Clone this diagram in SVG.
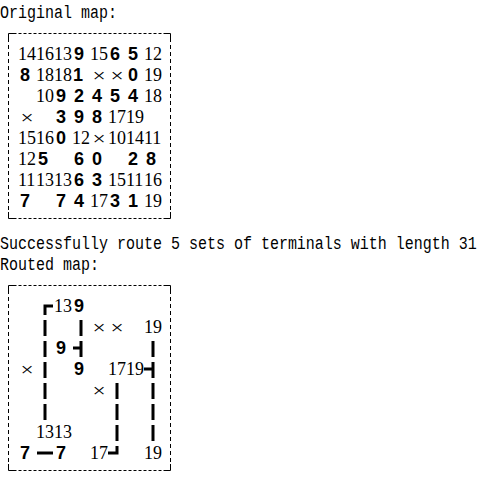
<svg xmlns="http://www.w3.org/2000/svg" width="490" height="483" viewBox="0 0 490 483">
<style>
.ln{font-family:"Liberation Mono",monospace;font-size:15px;fill:#000}
.n{font-family:"Liberation Serif",serif;font-size:18px;fill:#000}
.b{font-family:"Liberation Sans",sans-serif;font-size:18px;font-weight:bold;fill:#000;text-anchor:middle}
.x{font-family:"Liberation Serif",serif;font-size:15px;fill:#000;text-anchor:middle}
.bh{fill:none;stroke:#000;stroke-width:1;stroke-dasharray:3 2}
.bv{fill:none;stroke:#000;stroke-width:1;stroke-dasharray:4 3}
.bc{fill:none;stroke:#000;stroke-width:1}
.r{fill:none;stroke:#000;stroke-width:3;stroke-linecap:butt;stroke-linejoin:miter}
</style>
<rect width="490" height="483" fill="#fff"/>
<g id="messages" transform="scale(1,1.25)">
<text class="ln" x="0" y="14.4">Original map:</text>
<text class="ln" x="0" y="199.2">Successfully route 5 sets of terminals with length 31</text>
<text class="ln" x="0" y="216">Routed map:</text>
</g>
<g id="original-map">
<g id="original-border">
<path class="bh" d="M13.5,33.5H166"/>
<path class="bh" d="M13.5,218.5H166"/>
<path class="bv" d="M8.5,38V214"/>
<path class="bv" d="M170.5,38V214"/>
<path class="bc" d="M8.5,39V33.5H14M165,33.5H170.5V39M8.5,212V218.5H14M165,218.5H170.5V212"/>
</g>
<g id="original-cells">
<text class="n" x="18" y="60">14</text><text class="n" x="36" y="60">16</text><text class="n" x="54" y="60">13</text><text class="b" x="79" y="60">9</text><text class="n" x="90" y="60">15</text><text class="b" x="115" y="60">6</text><text class="b" x="133" y="60">5</text><text class="n" x="144" y="60">12</text>
<text class="b" x="25" y="81">8</text><text class="n" x="36" y="81">18</text><text class="n" x="54" y="81">18</text><text class="b" x="78" y="81">1</text><text class="x" transform="translate(99,75) scale(1.55,1.3)" y="5">×</text><text class="x" transform="translate(117,75) scale(1.55,1.3)" y="5">×</text><text class="b" x="133" y="81">0</text><text class="n" x="144" y="81">19</text>
<text class="n" x="36" y="102">10</text><text class="b" x="61" y="102">9</text><text class="b" x="79" y="102">2</text><text class="b" x="97" y="102">4</text><text class="b" x="115" y="102">5</text><text class="b" x="133" y="102">4</text><text class="n" x="144" y="102">18</text>
<text class="x" transform="translate(27,117) scale(1.55,1.3)" y="5">×</text><text class="b" x="61" y="123">3</text><text class="b" x="79" y="123">9</text><text class="b" x="97" y="123">8</text><text class="n" x="108" y="123">17</text><text class="n" x="126" y="123">19</text>
<text class="n" x="18" y="144">15</text><text class="n" x="36" y="144">16</text><text class="b" x="61" y="144">0</text><text class="n" x="72" y="144">12</text><text class="x" transform="translate(99,138) scale(1.55,1.3)" y="5">×</text><text class="n" x="108" y="144">10</text><text class="n" x="126" y="144">14</text><text class="n" x="144" y="144">11</text>
<text class="n" x="18" y="165">12</text><text class="b" x="43" y="165">5</text><text class="b" x="79" y="165">6</text><text class="b" x="97" y="165">0</text><text class="b" x="133" y="165">2</text><text class="b" x="151" y="165">8</text>
<text class="n" x="18" y="186">11</text><text class="n" x="36" y="186">13</text><text class="n" x="54" y="186">13</text><text class="b" x="79" y="186">6</text><text class="b" x="97" y="186">3</text><text class="n" x="108" y="186">15</text><text class="n" x="126" y="186">11</text><text class="n" x="144" y="186">16</text>
<text class="b" x="25" y="207">7</text><text class="b" x="61" y="207">7</text><text class="b" x="79" y="207">4</text><text class="n" x="90" y="207">17</text><text class="b" x="115" y="207">3</text><text class="b" x="133" y="207">1</text><text class="n" x="144" y="207">19</text>
</g>
</g>
<g id="routed-map">
<g id="routed-border">
<path class="bh" d="M13.5,285.5H166"/>
<path class="bh" d="M13.5,470.5H166"/>
<path class="bv" d="M8.5,290V466"/>
<path class="bv" d="M170.5,290V466"/>
<path class="bc" d="M8.5,291V285.5H14M165,285.5H170.5V291M8.5,464V470.5H14M165,470.5H170.5V464"/>
</g>
<g id="routed-cells">
<text class="n" x="54" y="312">13</text><text class="b" x="79" y="312">9</text>
<text class="x" transform="translate(99,327) scale(1.55,1.3)" y="5">×</text><text class="x" transform="translate(117,327) scale(1.55,1.3)" y="5">×</text><text class="n" x="144" y="333">19</text>
<text class="b" x="61" y="354">9</text>
<text class="x" transform="translate(27,369) scale(1.55,1.3)" y="5">×</text><text class="b" x="79" y="375">9</text><text class="n" x="108" y="375">17</text><text class="n" x="126" y="375">19</text>
<text class="x" transform="translate(99,390) scale(1.55,1.3)" y="5">×</text>
<text class="n" x="36" y="438">13</text><text class="n" x="54" y="438">13</text>
<text class="b" x="25" y="459">7</text><text class="b" x="61" y="459">7</text><text class="n" x="90" y="459">17</text><text class="n" x="144" y="459">19</text>
</g>
</g>
<g id="connectors">
<path class="r" d="M53,306H45V315"/>
<path class="r" d="M45,320V336M45,341V357M45,362V378M45,383V399M45,404V420"/>
<path class="r" d="M81,320V336M81,341V357M73,348H81"/>
<path class="r" d="M153,341V357M153,362V378M144,369H153M153,383V399M153,404V420M153,425V441"/>
<path class="r" d="M117,383V399M117,404V420M117,425V441M117,446V453H108"/>
<path class="r" d="M37,453H53"/>
</g>
</svg>
